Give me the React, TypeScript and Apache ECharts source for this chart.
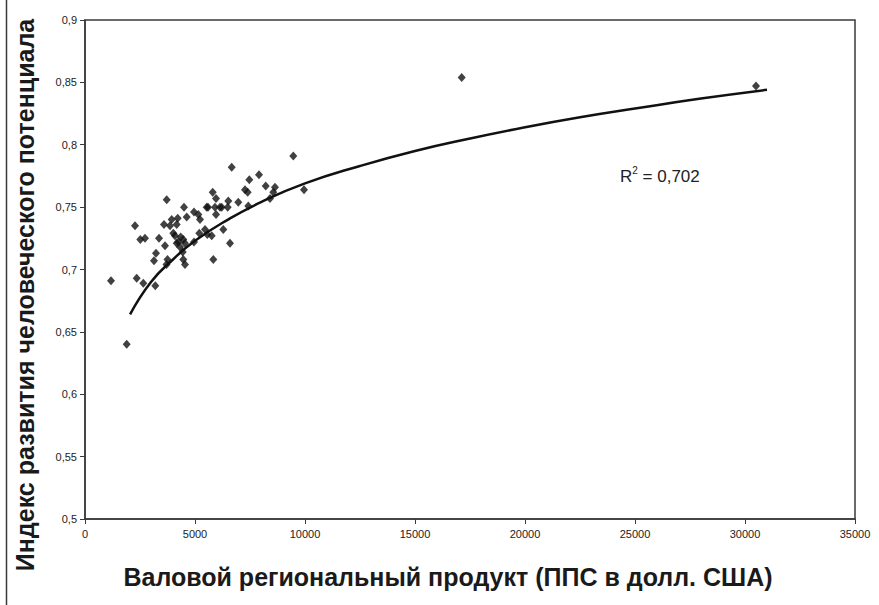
import React, { useEffect, useRef } from "react";
import * as echarts from "echarts";

// Scatter data: gross regional product (PPP, USD) vs HDI
const grpValues: number[] = [
  1182, 1895, 2350, 2650, 3195, 2273, 2514, 2727, 3364, 3636,
  3227, 3136, 3705, 3750, 3714, 3591, 3864, 3941, 4214, 4168,
  4014, 4091, 4500, 4623, 4955, 5150, 5227, 4168, 4350, 4468,
  4318, 4441, 4468, 4545, 4955, 5195, 5455, 5559, 5759, 5832,
  5532, 5805, 5955, 5909, 5955, 6214, 6514, 6486, 6286, 6591,
  6668, 6968, 7273, 7395, 7468, 7423, 7909, 8214, 8409, 8559,
  8636, 9468, 9955, 17123, 30500, 4545, 4241, 5591, 6136,
];
const hdiValues: number[] = [
  0.691, 0.640, 0.693, 0.689, 0.687, 0.735, 0.724, 0.725, 0.725, 0.719,
  0.713, 0.707, 0.704, 0.708, 0.756, 0.736, 0.735, 0.740, 0.741, 0.736,
  0.729, 0.727, 0.750, 0.742, 0.746, 0.744, 0.740, 0.721, 0.726, 0.724,
  0.718, 0.714, 0.708, 0.704, 0.722, 0.729, 0.732, 0.728, 0.727, 0.708,
  0.750, 0.762, 0.757, 0.750, 0.744, 0.750, 0.755, 0.750, 0.732, 0.721,
  0.782, 0.754, 0.764, 0.762, 0.772, 0.751, 0.776, 0.767, 0.757, 0.762,
  0.766, 0.791, 0.764, 0.854, 0.847, 0.721, 0.722, 0.750, 0.750,
];

// Logarithmic trend line
const trendX: number[] = [2050, 3000, 4000, 5000, 6500, 8000, 10000, 12500, 15000, 17500, 20000, 22500, 25000, 28000, 31000];
const trendY: number[] = [0.664, 0.690, 0.708, 0.723, 0.740, 0.754, 0.769, 0.783, 0.795, 0.805, 0.814, 0.822, 0.829, 0.837, 0.844];

const xTickLabels: string[] = ["0", "5000", "10000", "15000", "20000", "25000", "30000", "35000"];
const yTickLabels: string[] = ["0,5", "0,55", "0,6", "0,65", "0,7", "0,75", "0,8", "0,85", "0,9"];

const xAxisTitle = "Валовой региональный продукт (ППС в долл. США)";
const yAxisTitle = "Индекс развития человеческого потенциала";
const r2Value = "0,702";

export default function App() {
  const ref = useRef<HTMLDivElement>(null);

  useEffect(() => {
    if (!ref.current) return;
    const chart = echarts.init(ref.current, null, { renderer: "svg" });
    const scatterData = grpValues.map((x, i) => [x, hdiValues[i]]);
    const trendData = trendX.map((x, i) => [x, trendY[i]]);
    const font = "'Liberation Sans', Arial, sans-serif";

    chart.setOption({
      animation: false,
      backgroundColor: "#ffffff",
      grid: {
        left: 85,
        right: 24,
        top: 20,
        bottom: 86,
        show: true,
        borderColor: "#3a3a3a",
        borderWidth: 1.5,
        backgroundColor: "transparent",
      },
      xAxis: {
        type: "value",
        min: 0,
        max: 35000,
        interval: 5000,
        splitLine: { show: false },
        axisLine: { show: true, onZero: false, lineStyle: { color: "#3a3a3a", width: 1.5 } },
        axisTick: { show: true, inside: false, length: 5, lineStyle: { color: "#3a3a3a", width: 1 } },
        axisLabel: {
          color: "#222",
          fontSize: 11,
          fontFamily: font,
          margin: 9,
          formatter: (v: number) => xTickLabels[Math.round(v / 5000)] ?? String(v),
        },
      },
      yAxis: {
        type: "value",
        min: 0.5,
        max: 0.9,
        interval: 0.05,
        splitLine: { show: false },
        axisLine: { show: true, onZero: false, lineStyle: { color: "#3a3a3a", width: 1.5 } },
        axisTick: { show: true, inside: false, length: 5, lineStyle: { color: "#3a3a3a", width: 1 } },
        axisLabel: {
          color: "#222",
          fontSize: 11,
          fontFamily: font,
          margin: 8,
          formatter: (v: number) => yTickLabels[Math.round((v - 0.5) / 0.05)] ?? String(v),
        },
      },
      series: [
        {
          type: "line",
          data: trendData,
          smooth: true,
          showSymbol: false,
          symbol: "none",
          lineStyle: { color: "#111", width: 2.5 },
          z: 2,
        },
        {
          type: "scatter",
          data: scatterData,
          symbol: "diamond",
          symbolSize: [8, 9],
          itemStyle: { color: "#111" },
          z: 3,
        },
      ],
      graphic: [
        {
          type: "line",
          shape: { x1: 6.5, y1: 0, x2: 6.5, y2: 605 },
          style: { stroke: "#3a3a3a", lineWidth: 1.5 },
        },
        {
          type: "text",
          x: 448,
          y: 577,
          style: {
            text: xAxisTitle,
            font: `bold 25px ${font}`,
            fill: "#1a1a1a",
            align: "center",
            verticalAlign: "middle",
          },
        },
        {
          type: "text",
          x: 25,
          y: 295,
          rotation: Math.PI / 2,
          style: {
            text: yAxisTitle,
            font: `bold 25px ${font}`,
            fill: "#1a1a1a",
            align: "center",
            verticalAlign: "middle",
          },
        },
        {
          type: "text",
          x: 620,
          y: 175,
          style: {
            text: "{r|R}{s|2}{r| = " + r2Value + "}",
            fill: "#222",
            verticalAlign: "middle",
            rich: {
              r: { fontSize: 17, fontFamily: font, fill: "#222", verticalAlign: "bottom", lineHeight: 20 },
              s: { fontSize: 10, fontFamily: font, fill: "#222", verticalAlign: "top", lineHeight: 20 },
            },
          },
        },
      ],
    });

    return () => chart.dispose();
  }, []);

  return (
    <div
      ref={ref}
      style={{ position: "fixed", left: 0, top: 0, width: 879, height: 605, background: "#fff" }}
    />
  );
}
